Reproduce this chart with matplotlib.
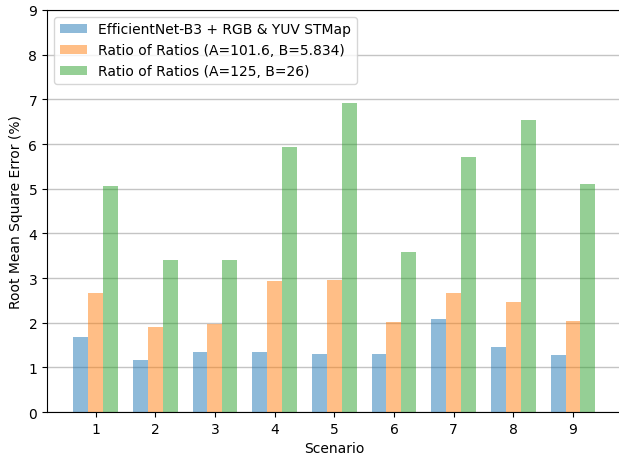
import numpy as np
import matplotlib
matplotlib.use('Agg')
import matplotlib.pyplot as plt

scenarios = [1, 2, 3, 4, 5, 6, 7, 8, 9]
effnet = [1.68, 1.16, 1.34, 1.34, 1.30, 1.30, 2.09, 1.46, 1.28]
ror_a = [2.67, 1.90, 1.98, 2.94, 2.96, 2.01, 2.67, 2.47, 2.04]
ror_b = [5.07, 3.41, 3.41, 5.93, 6.92, 3.59, 5.70, 6.54, 5.10]

x = np.array(scenarios)
w = 0.25

fig = plt.figure(figsize=(6.19, 4.56), dpi=100)
# right spine falls just outside the image, as in the original crop
ax = fig.add_axes([0.076, 0.094, 0.928, 0.882])
ax.set_axisbelow(True)
ax.yaxis.grid(True, color='#c4c4c4', linewidth=1)

ax.bar(x - w, effnet, w, color='tab:blue', alpha=0.5, label='EfficientNet-B3 + RGB & YUV STMap')
ax.bar(x, ror_a, w, color='tab:orange', alpha=0.5, label='Ratio of Ratios (A=101.6, B=5.834)')
ax.bar(x + w, ror_b, w, color='tab:green', alpha=0.5, label='Ratio of Ratios (A=125, B=26)')

ax.set_ylim(0, 9)
ax.set_xticks(x)
ax.set_xlabel('Scenario')
ax.set_ylabel('Root Mean Square Error (%)')
ax.legend(loc='upper left')

fig.savefig('out.png', dpi=100)
